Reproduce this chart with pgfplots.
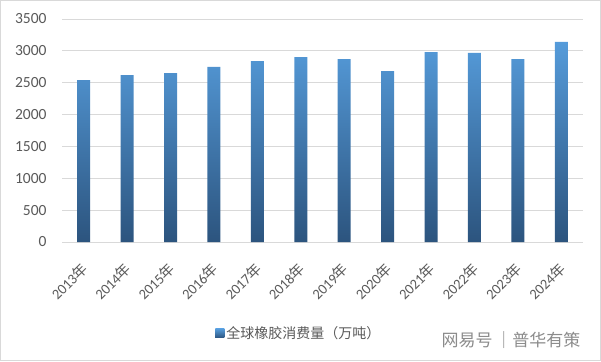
\documentclass[border=0pt]{standalone}
\usepackage{pgfplots}
\pgfplotsset{compat=1.18}
\usepackage{fontspec}
\setmainfont{Carlito}
\newfontfamily\cjk{Noto Sans CJK SC}
\definecolor{bartop}{HTML}{559BDA}
\definecolor{barbot}{HTML}{2C547E}
\definecolor{gridc}{HTML}{D9D9D9}
\definecolor{txt}{HTML}{595959}
\newcommand{\yr}[1]{\rotatebox{45}{#1{\cjk 年}}}
\pgfplotsset{
  every y tick label/.append style={font=\fontsize{15.5}{15.5}\selectfont, text=txt},
  every x tick label/.append style={font=\fontsize{14.5}{14.5}\selectfont, text=txt, anchor=north east, inner sep=0pt, xshift=6pt, yshift=-19pt},
}
\begin{document}
\begin{tikzpicture}
\useasboundingbox (0,0) rectangle (601pt,361pt);
\draw[gridc, line width=1.2pt] (0.6pt,0.6pt) rectangle (600.4pt,360.4pt);
\begin{axis}[
  ybar, bar width=13pt,
  at={(62pt,119pt)}, anchor=south west,
  width=521pt, height=223pt, scale only axis,
  ymin=0, ymax=3500, ytick={0,500,...,3500},
  xmin=-0.5, xmax=11.5,
  xtick={0,...,11},
  xticklabels={\yr{2013},\yr{2014},\yr{2015},\yr{2016},\yr{2017},\yr{2018},\yr{2019},\yr{2020},\yr{2021},\yr{2022},\yr{2023},\yr{2024}},
  axis line style={draw=none},
  major tick length=0pt,
  yticklabel shift=12pt,
  ymajorgrids, grid style={gridc, line width=0.9pt},
  yticklabel={\pgfmathprintnumber[assume math mode=true,1000 sep={}]{\tick}},
  legend style={at={(0.294,-0.41)}, anchor=west, draw=none, fill=none,
    font=\cjk\fontsize{14}{14}\selectfont, text=txt, inner sep=0pt,
    legend cell align=left},
  legend image code/.code={\fill[barbot!70!bartop] (0pt,-4.5pt) rectangle (9pt,4.5pt);},
]
\addplot[draw=none, top color=bartop, bottom color=barbot, shading angle=0] coordinates {
(0,2540) (1,2620) (2,2650) (3,2750) (4,2840) (5,2900) (6,2870) (7,2680) (8,2980) (9,2970) (10,2870) (11,3140)};
\addlegendentry{全球橡胶消费量（万吨）}
\end{axis}
\node[anchor=east, text=txt!70, font=\cjk\fontsize{17}{17}\selectfont] at (584pt,21pt) {网易号\,｜普华有策};
\end{tikzpicture}
\end{document}
